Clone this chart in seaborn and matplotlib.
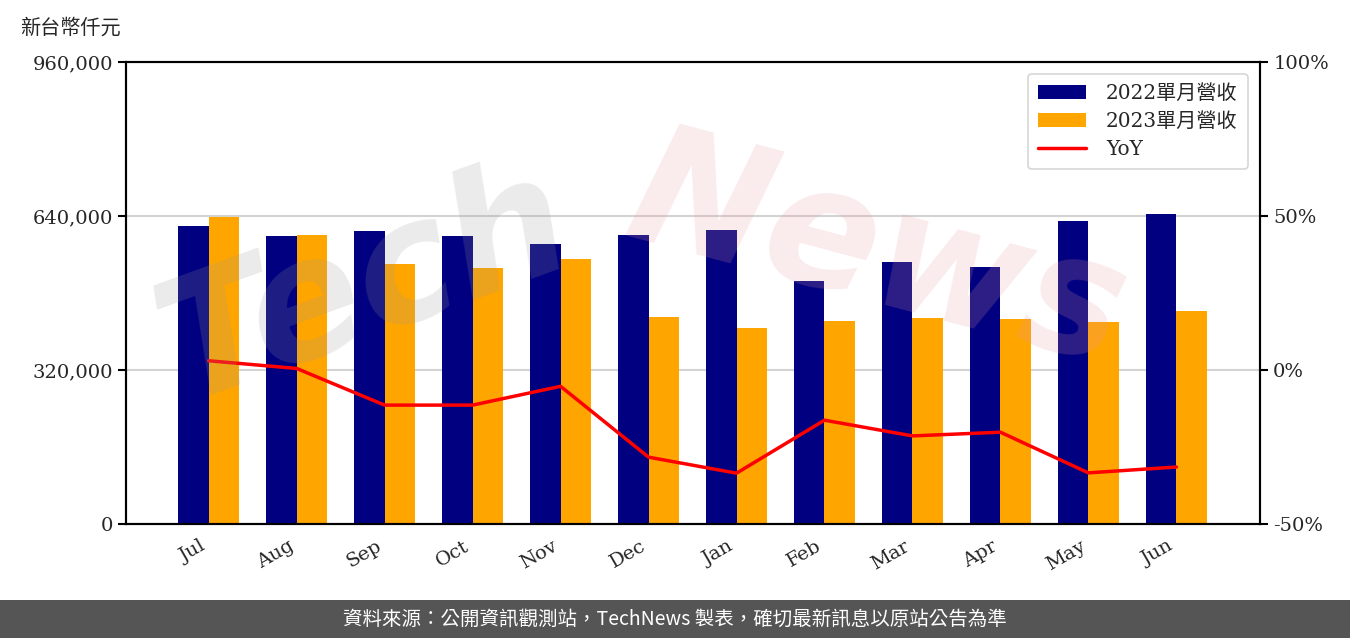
import numpy as np
import pandas as pd
import matplotlib
matplotlib.use("Agg")
import matplotlib.pyplot as plt
import seaborn as sns

months = ["Jul", "Aug", "Sep", "Oct", "Nov", "Dec", "Jan", "Feb", "Mar", "Apr", "May", "Jun"]
rev_2022 = [619000, 598000, 609000, 598000, 582000, 600000, 611000, 505000, 544000, 534000, 630000, 644000]
rev_2023 = [638000, 600000, 540000, 532000, 551000, 430000, 407000, 422000, 428000, 426000, 420000, 443000]
yoy = [3.0, 0.5, -11.4, -11.4, -5.3, -28.3, -33.5, -16.3, -21.4, -20.2, -33.4, -31.5]
series_names = ["2022單月營收", "2023單月營收"]

serif = ["DejaVu Serif", "Noto Sans CJK TC"]
sans = ["Noto Sans CJK TC", "DejaVu Sans"]

sns.set_style("white")
plt.rcParams["font.family"] = serif

df = pd.DataFrame({
    "month": months * 2,
    "revenue": rev_2022 + rev_2023,
    "series": [series_names[0]] * 12 + [series_names[1]] * 12,
})

fig = plt.figure(figsize=(13.5, 6.38), dpi=100)
ax = fig.add_axes([0.0933, 0.1787, 0.84, 0.7241])

sns.barplot(data=df, x="month", y="revenue", hue="series", order=months,
            palette=["#000080", "#FFA500"], width=0.7, saturation=1,
            errorbar=None, linewidth=0, ax=ax, zorder=2)

ax.set_ylim(0, 960000)
ax.set_yticks([0, 320000, 640000, 960000])
ax.set_yticklabels([f"{v:,}" for v in [0, 320000, 640000, 960000]], fontsize=14)
ax.yaxis.grid(True, color="#d3d3d3", linewidth=1.5, zorder=0)
ax.set_axisbelow(True)
ax.set_xlabel("")
ax.set_ylabel("")
ax.set_xticks(range(len(months)))
ax.set_xticklabels(months, rotation=30, ha="right", fontsize=14)
ax.tick_params(axis="both", direction="out", length=6, width=1.5, color="black")
for s in ax.spines.values():
    s.set_color("black")
    s.set_linewidth(1.5)

ax2 = ax.twinx()
sns.lineplot(x=list(range(len(months))), y=yoy, color="#FF0000", linewidth=2.5,
             sort=False, ax=ax2, label="YoY", legend=False)
ax2.set_ylim(-50, 100)
ax2.set_yticks([-50, 0, 50, 100])
ax2.set_yticklabels([f"{v}%" for v in [-50, 0, 50, 100]], fontsize=14)
ax2.tick_params(axis="y", direction="out", length=6, width=1.5, color="black")
ax2.set_xlim(-0.94, 11.95)
ax.set_xlim(-0.94, 11.95)
for s in ax2.spines.values():
    s.set_color("black")
    s.set_linewidth(1.5)

# watermark
fig.text(0.27, 0.55, "Tech", fontsize=120, color="#999999", alpha=0.2,
         rotation=20, ha="center", va="center", style="italic", weight="bold",
         family="DejaVu Sans", zorder=5)
fig.text(0.65, 0.6, "News", fontsize=120, color="#e89aa0", alpha=0.2,
         rotation=-15, ha="center", va="center", style="italic", weight="bold",
         family="DejaVu Sans", zorder=5)

h1, l1 = ax.get_legend_handles_labels()
h2, l2 = ax2.get_legend_handles_labels()
if ax.get_legend():
    ax.get_legend().remove()
leg = ax2.legend(h1 + h2, l1 + l2, loc="upper right",
                 prop={"family": serif, "size": 14.5}, frameon=True,
                 handlelength=2.4, handletextpad=1.0, borderpad=0.5,
                 labelspacing=0.45, borderaxespad=0.6)
leg.get_frame().set_edgecolor("#cccccc")
leg.get_frame().set_linewidth(1.2)

fig.text(0.015, 0.957, "新台幣仟元", fontsize=14.5, family=serif, ha="left", va="center")

# footer band
fig.patches.append(plt.Rectangle((0, 0), 1, 38 / 638, transform=fig.transFigure,
                                 facecolor="#555555", edgecolor="none", zorder=0))
fig.text(0.5, 19 / 638, "資料來源：公開資訊觀測站，TechNews 製表，確切最新訊息以原站公告為準",
         color="white", fontsize=14, family=sans, ha="center", va="center")

fig.savefig("out.png", dpi=100)
